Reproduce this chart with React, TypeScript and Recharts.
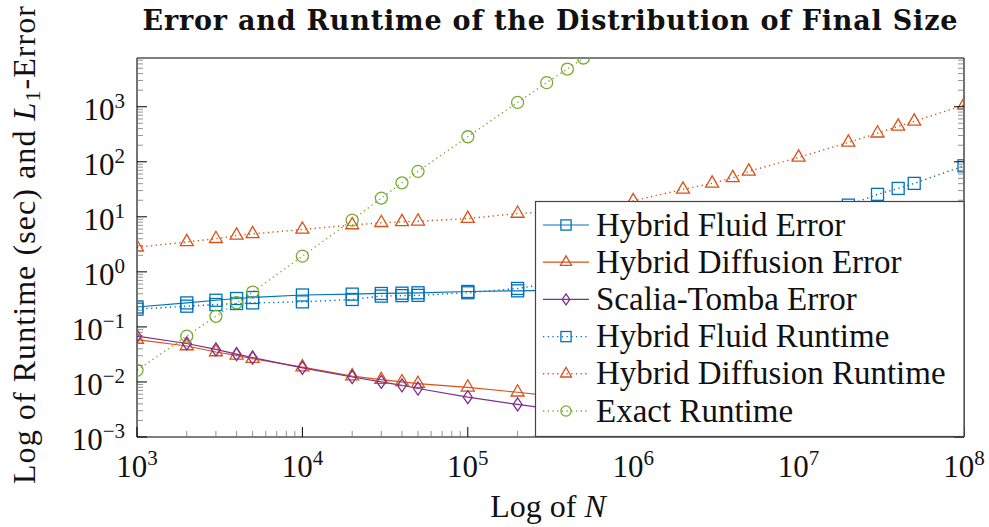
import React from 'react';
import { LineChart, Line, XAxis, YAxis } from 'recharts';

// sample sizes N
const nAll = [1e3, 2e3, 3e3, 4e3, 5e3, 1e4, 2e4, 3e4, 4e4, 5e4, 1e5, 2e5, 3e5, 4e5, 5e5, 1e6, 2e6, 3e6, 4e6, 5e6, 1e7, 2e7, 3e7, 4e7, 5e7, 1e8];
const nExact = [1e3, 2e3, 3e3, 4e3, 5e3, 1e4, 2e4, 3e4, 4e4, 5e4, 1e5, 2e5, 3e5, 4e5, 5e5];
const nError = [1e3, 2e3, 3e3, 4e3, 5e3, 1e4, 2e4, 3e4, 4e4, 5e4, 1e5, 2e5, 3e5, 4e5, 5e5, 1e6];

// L1 errors
const fluidError = [0.23, 0.273, 0.305, 0.328, 0.342, 0.38, 0.394, 0.405, 0.41, 0.417, 0.44, 0.452, 0.46, 0.465, 0.47, 0.48];
const diffusionError = [0.059, 0.045, 0.035, 0.0305, 0.0266, 0.0186, 0.0128, 0.011, 0.01, 0.0093, 0.008, 0.0065, 0.0057, 0.0054, 0.0051, 0.0044];
const scaliaError = [0.068, 0.05, 0.039, 0.032, 0.0278, 0.018, 0.0123, 0.01, 0.0087, 0.0076, 0.0053, 0.0039, 0.0033, 0.0029, 0.0026, 0.0019];

// runtimes in seconds
const fluidRuntime = [0.21, 0.238, 0.255, 0.266, 0.273, 0.285, 0.315, 0.363, 0.37, 0.374, 0.417, 0.5, 0.6, 0.7, 0.8, 1.3, 2.3, 3.3, 4.3, 5.2, 9.5, 16.3, 25.6, 32.8, 40.5, 84.5];
const diffusionRuntime = [2.8, 3.5, 4.0, 4.6, 4.9, 5.9, 7.1, 7.8, 8.1, 8.3, 9.3, 11.5, 12.2, 12.8, 13.4, 19.5, 31.6, 40.5, 51, 67, 120, 225, 330, 440, 543, 1070];
const exactRuntime = [0.0163, 0.068, 0.156, 0.275, 0.43, 1.93, 8.7, 21.9, 41.5, 67, 285, 1200, 2740, 4840, 7680];

const xMajor = [1e3, 1e4, 1e5, 1e6, 1e7, 1e8];
const yMajor = [1e-3, 1e-2, 1e-1, 1, 1e1, 1e2, 1e3];
const minorSteps = [2, 3, 4, 5, 6, 7, 8, 9];
const xTicks = [...xMajor, ...xMajor.slice(0, -1).flatMap((d) => minorSteps.map((m) => m * d))];
const yTicks = [...yMajor, ...yMajor.slice(0, -1).flatMap((d) => minorSteps.map((m) => m * d)), 2e3, 3e3, 4e3, 5e3, 6e3, 7e3];
const yMax = 7680;

const BLUE = '#0072BD';
const ORANGE = '#D95319';
const PURPLE = '#7E2F8E';
const GREEN = '#77AC30';
const SERIF = "'Liberation Serif', 'Times New Roman', serif";

const toRows = (xs: number[], ys: number[]) => xs.map((n, i) => ({ n, v: ys[i] }));

type Shape = 'square' | 'triangle' | 'diamond' | 'circle';

const Marker = ({ shape, cx, cy, color, s = 1 }: { shape: Shape; cx: number; cy: number; color: string; s?: number }) => {
  const common = { fill: 'none', stroke: color, strokeWidth: 1.3 };
  if (shape === 'square') {
    const h = 6 * s;
    return <rect x={cx - h} y={cy - h} width={2 * h} height={2 * h} {...common} />;
  }
  if (shape === 'triangle') {
    const r = 7.5 * s;
    return <polygon points={`${cx},${cy - r} ${cx - 0.866 * r},${cy + r / 2} ${cx + 0.866 * r},${cy + r / 2}`} {...common} />;
  }
  if (shape === 'diamond') {
    const w = 4.5 * s;
    const h = 6.5 * s;
    return <polygon points={`${cx},${cy - h} ${cx + w},${cy} ${cx},${cy + h} ${cx - w},${cy}`} {...common} />;
  }
  return <circle cx={cx} cy={cy} r={6 * s} {...common} />;
};

const dotFor = (shape: Shape, color: string) => (p: any) => {
  if (p.cx == null || p.cy == null) return <g key={p.index} />;
  return <Marker key={p.index} shape={shape} cx={p.cx} cy={p.cy} color={color} />;
};

const isMajor = (v: number) => Math.abs(Math.log10(v) - Math.round(Math.log10(v))) < 1e-6;
const expText = (v: number) => {
  const e = Math.round(Math.log10(v));
  return e < 0 ? `\u2212${-e}` : `${e}`;
};

const tickLine = (major: boolean) => ({ stroke: major ? '#000' : '#777', strokeWidth: major ? 1 : 0.8 });

const BottomTick = ({ x, y, payload }: any) => {
  const major = isMajor(payload.value);
  return (
    <g>
      <line x1={x} x2={x} y1={y} y2={y - (major ? 10 : 6)} {...tickLine(major)} />
      {major && (
        <text x={x} y={y + 40} textAnchor="middle" fontFamily={SERIF} fontSize={31} fill="#111">
          10<tspan dy={-12} fontSize={21}>{expText(payload.value)}</tspan>
        </text>
      )}
    </g>
  );
};

const TopTick = ({ x, y, payload }: any) => {
  const major = isMajor(payload.value);
  return <line x1={x} x2={x} y1={y} y2={y + (major ? 10 : 6)} {...tickLine(major)} />;
};

const LeftTick = ({ x, y, payload }: any) => {
  const major = isMajor(payload.value);
  return (
    <g>
      <line x1={x} x2={x + (major ? 10 : 6)} y1={y} y2={y} {...tickLine(major)} />
      {major && (
        <text x={x - 12} y={y + 13} textAnchor="end" fontFamily={SERIF} fontSize={31} fill="#111">
          10<tspan dy={-12} fontSize={21}>{expText(payload.value)}</tspan>
        </text>
      )}
    </g>
  );
};

const RightTick = ({ x, y, payload }: any) => {
  const major = isMajor(payload.value);
  return <line x1={x} x2={x - (major ? 10 : 6)} y1={y} y2={y} {...tickLine(major)} />;
};

const series = [
  { name: 'Hybrid Fluid Error', xs: nError, ys: fluidError, color: BLUE, shape: 'square' as Shape, dotted: false },
  { name: 'Hybrid Diffusion Error', xs: nError, ys: diffusionError, color: ORANGE, shape: 'triangle' as Shape, dotted: false },
  { name: 'Scalia-Tomba Error', xs: nError, ys: scaliaError, color: PURPLE, shape: 'diamond' as Shape, dotted: false },
  { name: 'Hybrid Fluid Runtime', xs: nAll, ys: fluidRuntime, color: BLUE, shape: 'square' as Shape, dotted: true },
  { name: 'Hybrid Diffusion Runtime', xs: nAll, ys: diffusionRuntime, color: ORANGE, shape: 'triangle' as Shape, dotted: true },
  { name: 'Exact Runtime', xs: nExact, ys: exactRuntime, color: GREEN, shape: 'circle' as Shape, dotted: true },
];

const DOTS = '1.3 3.4';

export default function App() {
  const axisStroke = { stroke: '#000', strokeWidth: 1.1 };
  return (
    <div style={{ position: 'absolute', left: 0, top: 0, width: 989, height: 527, background: '#fff' }}>
      <LineChart width={989} height={527} margin={{ top: 57, right: 24, bottom: 89, left: 136 }}>
        <XAxis xAxisId="x" dataKey="n" type="number" scale="log" domain={[1e3, 1e8]} allowDataOverflow
          ticks={xTicks} interval={0} height={1} tickSize={0} tickMargin={0} tickLine={false}
          axisLine={axisStroke} tick={BottomTick} />
        <XAxis xAxisId="top" orientation="top" type="number" scale="log" domain={[1e3, 1e8]} allowDataOverflow
          ticks={xTicks} interval={0} height={1} tickSize={0} tickMargin={0} tickLine={false}
          axisLine={axisStroke} tick={TopTick} />
        <YAxis yAxisId="y" type="number" scale="log" domain={[1e-3, yMax]} allowDataOverflow
          ticks={yTicks} interval={0} width={1} tickSize={0} tickMargin={0} tickLine={false}
          axisLine={axisStroke} tick={LeftTick} />
        <YAxis yAxisId="right" orientation="right" type="number" scale="log" domain={[1e-3, yMax]} allowDataOverflow
          ticks={yTicks} interval={0} width={1} tickSize={0} tickMargin={0} tickLine={false}
          axisLine={axisStroke} tick={RightTick} />
        {series.map((s) => (
          <Line key={s.name} xAxisId="x" yAxisId="y" data={toRows(s.xs, s.ys)} dataKey="v" name={s.name}
            type="linear" stroke={s.color} strokeWidth={s.dotted ? 1.4 : 1.2}
            strokeDasharray={s.dotted ? DOTS : undefined} dot={dotFor(s.shape, s.color)}
            activeDot={false} isAnimationActive={false} />
        ))}
      </LineChart>

      <svg width={989} height={527} style={{ position: 'absolute', left: 0, top: 0, pointerEvents: 'none' }}>
        <text x={550} y={30} textAnchor="middle" fontFamily="'DejaVu Serif', serif" fontWeight="bold" fontSize={27}
          textLength={815} lengthAdjust="spacing" fill="#111">
          Error and Runtime of the Distribution of Final Size
        </text>
        <text x={548} y={517} textAnchor="middle" fontFamily={SERIF} fontSize={32} fill="#111">
          Log of <tspan fontStyle="italic">N</tspan>
        </text>
        <text x={35} y={245} transform="rotate(-90 35 245)" textAnchor="middle" fontFamily={SERIF} fontSize={32}
          textLength={478} lengthAdjust="spacing" fill="#111">
          Log of Runtime (sec) and <tspan fontStyle="italic">L</tspan><tspan fontSize={22} dy={5}>1</tspan><tspan dy={-5}>-Error</tspan>
        </text>

        <g>
          <rect x={535.5} y={201.5} width={428.5} height={235} fill="#fff" stroke="#444" strokeWidth={1.2} />
          {series.map((s, i) => {
            const cy = 225 + i * 37.2;
            return (
              <g key={s.name}>
                <line x1={543} x2={589} y1={cy} y2={cy} stroke={s.color} strokeWidth={s.dotted ? 1.4 : 1.2}
                  strokeDasharray={s.dotted ? DOTS : undefined} />
                <Marker shape={s.shape} cx={566} cy={cy} color={s.color} s={0.85} />
                <text x={596} y={cy + 10.5} fontFamily={SERIF} fontSize={33} fill="#111">{s.name}</text>
              </g>
            );
          })}
        </g>
      </svg>
    </div>
  );
}
